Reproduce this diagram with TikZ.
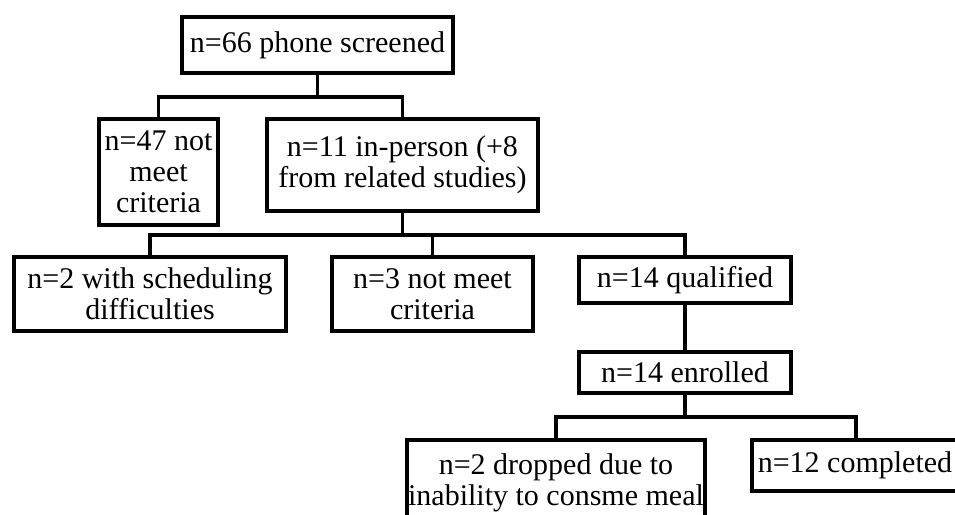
\documentclass[tikz,border=0pt]{standalone}
\usepackage{fontspec}
\setmainfont{Liberation Serif}
\tikzset{
  box/.style={draw, line width=4pt, inner sep=0pt, align=center, line join=miter,
    font=\fontsize{30}{31}\selectfont},
  link/.style={line width=3.5pt, line join=miter}
}
\begin{document}
\begin{tikzpicture}[x=1pt,y=-1pt]
\useasboundingbox (0,0) rectangle (955,514);
\clip (0,0) rectangle (955,514);
\fill[white] (0,0) rectangle (955,514);
\node[box, minimum width=271pt, minimum height=56pt] (top) at (317.5,45) {n=66 phone screened};
\node[box, minimum width=119pt, minimum height=106pt] (n47) at (158.5,172) {n=47 not\\meet\\criteria};
\node[box, minimum width=271pt, minimum height=92pt] (n11) at (402.5,165) {n=11 in-person (+8\\from related studies)};
\node[box, minimum width=272pt, minimum height=74pt] (sched) at (150,294) {n=2 with scheduling\\difficulties};
\node[box, minimum width=201pt, minimum height=74pt] (n3) at (432.5,294) {n=3 not meet\\criteria};
\node[box, minimum width=212pt, minimum height=46pt] (qual) at (685,280) {n=14 qualified};
\node[box, minimum width=212pt, minimum height=41pt] (enr) at (685,372.5) {n=14 enrolled};
\node[box, minimum width=298pt, minimum height=86pt] (drop) at (556,483) {n=2 dropped due to\\inability to consme meal};
\node[box, minimum width=214pt, minimum height=51pt] (comp) at (859,465.5) {n=12 completed\hspace*{8pt}};
\coordinate (b1) at (0,97);
\coordinate (b2) at (0,235);
\coordinate (b3) at (0,417);
\draw[link] (top.south) -- (top.south |- b1);
\draw[link] (n47.north) |- (n11.north |- b1) -- (n11.north);
\draw[link] (n11.south) -- (n11.south |- b2);
\draw[link] (sched.north) |- (qual.north |- b2) -- (qual.north);
\draw[link] (n3.north) -- (n3.north |- b2);
\draw[link] (qual.south) -- (enr.north);
\draw[link] (enr.south) -- (enr.south |- b3);
\draw[link] (drop.north) |- ([xshift=-3pt]comp.north |- b3) -- ([xshift=-3pt]comp.north);
\end{tikzpicture}
\end{document}
